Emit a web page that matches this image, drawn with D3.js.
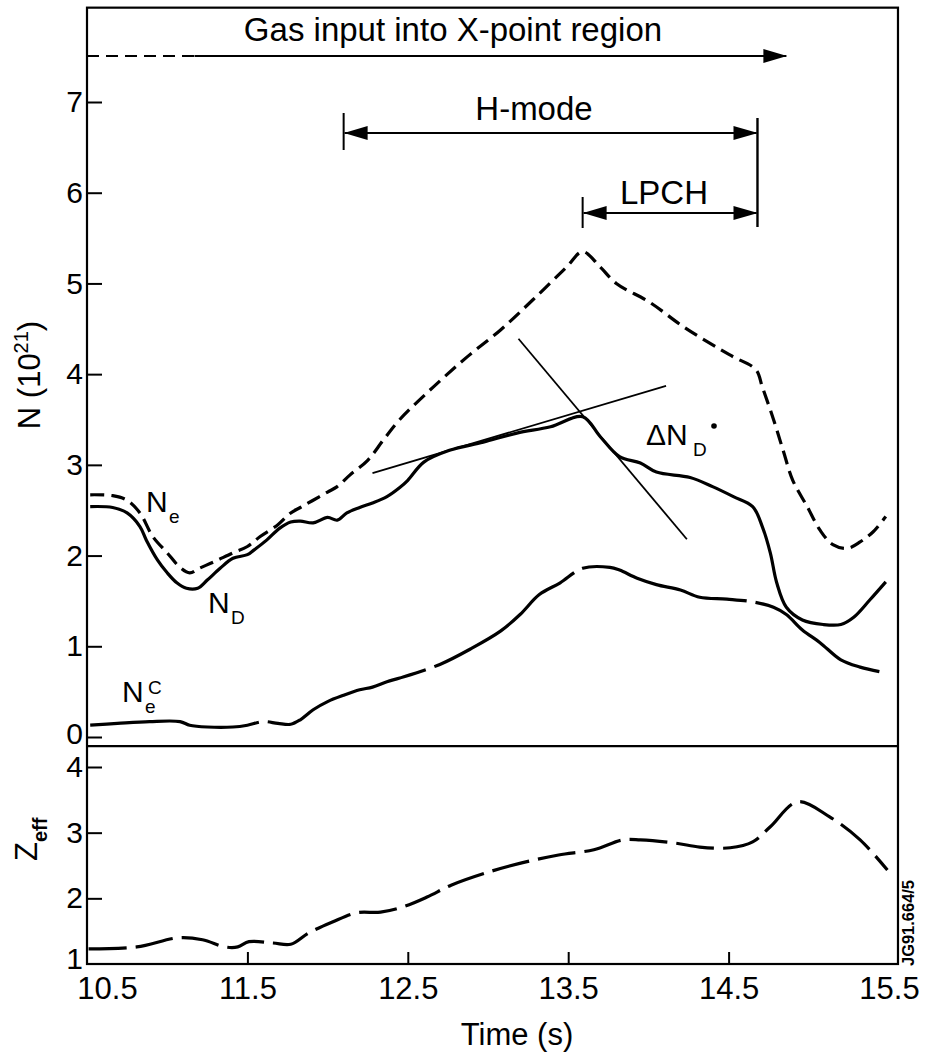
<!DOCTYPE html>
<html>
<head>
<meta charset="utf-8">
<script src="https://cdn.jsdelivr.net/npm/d3@7"></script>
<style>
  body { margin: 0; background: #fff; }
  svg { display: block; font-family: "Liberation Sans", Arial, sans-serif; }
</style>
</head>
<body>
<svg id="chart" width="925" height="1057"></svg>
<script>
// ---- data ----
const xTicks = [10.5, 11.5, 12.5, 13.5, 14.5, 15.5]
const nTicks = [0, 1, 2, 3, 4, 5, 6, 7]
const zTicks = [1, 2, 3, 4]

// N_e (dashed)
const neTime = [10.52,10.66,10.75,10.83,10.91,11.0,11.08,11.14,11.2,11.29,11.41,11.5,11.58,11.69,11.77,11.83,11.91,12.0,12.06,12.14,12.25,12.35,12.45,12.66,12.87,13.08,13.28,13.49,13.59,13.7,13.8,14.01,14.22,14.45,14.53,14.67,14.71,14.78,14.84,14.9,14.99,15.07,15.15,15.24,15.32,15.4,15.48]
const neVal  = [2.67,2.66,2.61,2.47,2.21,2.03,1.87,1.81,1.86,1.93,2.03,2.1,2.21,2.34,2.47,2.53,2.61,2.7,2.76,2.89,3.05,3.28,3.5,3.86,4.19,4.49,4.82,5.18,5.35,5.18,5.0,4.79,4.52,4.27,4.19,4.05,3.86,3.5,3.16,2.83,2.54,2.28,2.12,2.08,2.15,2.26,2.43]

// N_D (solid)
const ndTime = [10.52,10.66,10.75,10.83,10.87,10.94,11.0,11.06,11.12,11.19,11.25,11.33,11.41,11.5,11.54,11.62,11.7,11.77,11.83,11.91,12.0,12.06,12.12,12.2,12.28,12.37,12.45,12.5,12.6,12.76,12.97,13.18,13.39,13.59,13.7,13.82,13.95,14.05,14.26,14.4,14.53,14.65,14.71,14.76,14.8,14.86,14.96,15.09,15.2,15.28,15.38,15.48]
const ndVal  = [2.54,2.53,2.47,2.32,2.17,1.95,1.81,1.7,1.64,1.64,1.73,1.86,1.97,2.01,2.06,2.17,2.3,2.37,2.38,2.36,2.42,2.39,2.47,2.53,2.58,2.65,2.75,2.83,3.03,3.16,3.25,3.35,3.42,3.53,3.31,3.09,3.02,2.92,2.86,2.76,2.65,2.54,2.32,2.03,1.7,1.43,1.29,1.24,1.24,1.32,1.51,1.71]

// N_e^C (solid, broken)
const necTime = [10.52,10.69,10.89,11.08,11.14,11.25,11.41,11.5,11.6,11.69,11.77,11.83,11.91,12.0,12.1,12.2,12.28,12.37,12.45,12.7,12.89,13.08,13.2,13.32,13.45,13.59,13.76,13.82,13.93,14.05,14.2,14.32,14.49,14.65,14.78,14.86,14.96,15.07,15.2,15.32,15.44]
const necVal  = [0.13,0.15,0.17,0.17,0.13,0.11,0.11,0.13,0.17,0.15,0.14,0.19,0.3,0.39,0.46,0.52,0.55,0.61,0.65,0.8,0.97,1.17,1.35,1.57,1.7,1.86,1.87,1.84,1.75,1.68,1.62,1.54,1.52,1.49,1.43,1.35,1.18,1.04,0.85,0.77,0.72]

// Z_eff (long dashes)
const zTime = [10.51,10.81,11.07,11.22,11.36,11.44,11.51,11.66,11.77,11.88,12.03,12.18,12.33,12.47,12.62,12.77,12.99,13.21,13.44,13.66,13.84,13.95,14.17,14.32,14.51,14.65,14.76,14.93,15.13,15.32,15.49]
const zVal  = [1.23,1.26,1.4,1.37,1.26,1.26,1.34,1.32,1.3,1.47,1.64,1.78,1.79,1.87,2.02,2.2,2.39,2.54,2.66,2.74,2.89,2.89,2.84,2.78,2.77,2.86,3.09,3.47,3.24,2.89,2.43]

// the two straight tangent lines for dN_D/dt
const tangentA = [[12.28, 2.91], [14.11, 3.87]]
const tangentB = [[13.19, 4.39], [14.24, 2.18]]

// time intervals marked at top
const gasStart = 10.5, gasDashEnd = 11.17, gasEnd = 14.86
const hmodeStart = 12.1, hmodeEnd = 14.68
const lpchStart = 13.59, lpchEnd = 14.68

// ---- scales ----
const svg = d3.select('#chart')
const x = d3.scaleLinear().domain([10.5, 15.5]).range([87, 889])
const yN = d3.scaleLinear().domain([0, 7]).range([737, 102])
const yZ = d3.scaleLinear().domain([1, 4]).range([964, 767])
const xMax = 15.556, nTop = 8.04, nBottom = -0.1

const fontSize = 30

// arrow heads
const defs = svg.append('defs')
defs.append('marker')
  .attr('id', 'head')
  .attr('markerUnits', 'userSpaceOnUse')
  .attr('viewBox', '0 -8 24 16')
  .attr('refX', 23).attr('refY', 0)
  .attr('markerWidth', 24).attr('markerHeight', 16)
  .attr('orient', 'auto-start-reverse')
  .append('path').attr('d', 'M0,-7L24,0L0,7Z').attr('fill', '#000')

// ---- frame ----
const left = x(10.5), right = x(xMax)
const frame = svg.append('g').attr('stroke', '#000').attr('stroke-width', 2.2).attr('fill', 'none')
frame.append('rect')
  .attr('x', left).attr('y', yN(nTop))
  .attr('width', right - left).attr('height', yZ(1) - yN(nTop))
frame.append('line')
  .attr('x1', left).attr('x2', right)
  .attr('y1', yN(nBottom)).attr('y2', yN(nBottom))

// ---- axes ----
const styleAxis = g => {
  g.select('.domain').remove()
  g.selectAll('.tick line').attr('stroke-width', 2)
  g.selectAll('.tick text').attr('font-size', fontSize).attr('fill', '#000')
  g.attr('font-family', null).attr('font-size', null)
}

svg.append('g')
  .attr('transform', `translate(${left},0)`)
  .call(d3.axisLeft(yN).tickValues(nTicks).tickSize(-15).tickPadding(4).tickFormat(d3.format('d')))
  .call(styleAxis)
  .selectAll('.tick text').filter(d => d === 0).attr('dy', '0.2em')

const zAxisG = svg.append('g')
  .attr('transform', `translate(${left},0)`)
  .call(d3.axisLeft(yZ).tickValues(zTicks).tickSize(-15).tickPadding(4).tickFormat(d3.format('d')))
  .call(styleAxis)
zAxisG.selectAll('.tick line').filter(d => d === 1).remove()
zAxisG.selectAll('.tick text').filter(d => d === 1).attr('dy', '0.15em')

const xAxisG = svg.append('g')
  .attr('transform', `translate(0,${yZ(1)})`)
  .call(d3.axisBottom(x).tickValues(xTicks).tickSize(-12).tickPadding(13).tickFormat(d3.format('.1f')))
  .call(styleAxis)
xAxisG.selectAll('.tick line').filter(d => d === 10.5 || d === 15.5).remove()
xAxisG.selectAll('.tick text').attr('font-size', 31)
xAxisG.selectAll('.tick text').filter(d => d === 10.5).attr('dx', 20)

// axis titles
svg.append('text')
  .attr('x', (x(10.5) + x(15.5)) / 2 + 29).attr('y', 1045)
  .attr('text-anchor', 'middle').attr('font-size', 31)
  .text('Time (s)')

const nLabel = svg.append('text')
  .attr('transform', 'translate(40,375) rotate(-90)')
  .attr('text-anchor', 'middle').attr('font-size', 31)
nLabel.append('tspan').text('N (10')
nLabel.append('tspan').attr('font-size', 20).attr('dy', -12).text('21')
nLabel.append('tspan').attr('dy', 12).text(')')

const zLabel = svg.append('text')
  .attr('transform', 'translate(37,861) rotate(-90)')
  .attr('font-size', 31)
zLabel.append('tspan').text('Z')
zLabel.append('tspan').attr('font-size', 20).attr('dy', 10).attr('font-weight', 'bold').text('eff')

// ---- curves ----
const line = d3.line().curve(d3.curveCatmullRom.alpha(0.5))

const plotN = (times, vals, dash) => svg.append('path')
  .datum(d3.zip(times, vals))
  .attr('d', line.x(d => x(d[0])).y(d => yN(d[1])))
  .attr('fill', 'none').attr('stroke', '#000').attr('stroke-width', 3.2)
  .attr('stroke-dasharray', dash)

plotN(neTime, neVal, '14,7')
plotN(ndTime, ndVal, null)
plotN(necTime, necVal, '170,9')

svg.append('path')
  .datum(d3.zip(zTime, zVal))
  .attr('d', line.x(d => x(d[0])).y(d => yZ(d[1])))
  .attr('fill', 'none').attr('stroke', '#000').attr('stroke-width', 3.2)
  .attr('stroke-dasharray', '38,9')

const straight = d3.line().x(d => x(d[0])).y(d => yN(d[1]))
;[tangentA, tangentB].forEach(t => svg.append('path')
  .attr('d', straight(t))
  .attr('fill', 'none').attr('stroke', '#000').attr('stroke-width', 1.8))

// ---- series labels ----
const label = (tx, ty, main, sub, sup) => {
  svg.append('text').attr('x', tx).attr('y', ty).attr('font-size', 30).text(main)
  if (sub) svg.append('text').attr('x', tx + 23).attr('y', ty + 11).attr('font-size', 19).text(sub)
  if (sup) svg.append('text').attr('x', tx + 26).attr('y', ty - 8).attr('font-size', 19).text(sup)
}
label(146, 512, 'N', 'e')
label(208, 613, 'N', 'D')
label(122, 702, 'N', 'e', 'C')
svg.append('text').attr('x', 646).attr('y', 445).attr('font-size', 30).text('ΔN')
svg.append('text').attr('x', 693).attr('y', 456).attr('font-size', 19).text('D')
svg.append('circle').attr('cx', 714).attr('cy', 426).attr('r', 2.8).attr('fill', '#000')

// ---- interval annotations ----
const ann = svg.append('g').attr('stroke', '#000')

// gas input
ann.append('line')
  .attr('x1', x(gasStart)).attr('x2', x(gasDashEnd)).attr('y1', 56).attr('y2', 56)
  .attr('stroke-width', 2).attr('stroke-dasharray', '12,7')
ann.append('line')
  .attr('x1', x(gasDashEnd)).attr('x2', x(gasEnd)).attr('y1', 56).attr('y2', 56)
  .attr('stroke-width', 2).attr('marker-end', 'url(#head)')
svg.append('text')
  .attr('x', 453).attr('y', 41).attr('text-anchor', 'middle').attr('font-size', 33)
  .text('Gas input into X-point region')

// H-mode
ann.append('line')
  .attr('x1', x(hmodeStart)).attr('x2', x(hmodeStart)).attr('y1', 113).attr('y2', 150)
  .attr('stroke-width', 2)
ann.append('line')
  .attr('x1', x(hmodeEnd)).attr('x2', x(hmodeEnd)).attr('y1', 118).attr('y2', 227)
  .attr('stroke-width', 2.4)
ann.append('line')
  .attr('x1', x(hmodeStart) + 1).attr('x2', x(hmodeEnd) - 1).attr('y1', 133).attr('y2', 133)
  .attr('stroke-width', 2).attr('marker-start', 'url(#head)').attr('marker-end', 'url(#head)')
svg.append('text')
  .attr('x', 534).attr('y', 120).attr('text-anchor', 'middle').attr('font-size', 33)
  .text('H-mode')

// LPCH
ann.append('line')
  .attr('x1', x(lpchStart)).attr('x2', x(lpchStart)).attr('y1', 197).attr('y2', 228)
  .attr('stroke-width', 2)
ann.append('line')
  .attr('x1', x(lpchStart) + 1).attr('x2', x(lpchEnd) - 1).attr('y1', 213).attr('y2', 213)
  .attr('stroke-width', 2).attr('marker-start', 'url(#head)').attr('marker-end', 'url(#head)')
svg.append('text')
  .attr('x', 664).attr('y', 204).attr('text-anchor', 'middle').attr('font-size', 33)
  .text('LPCH')

// figure id
svg.append('text')
  .attr('transform', 'translate(914,966) rotate(-90)')
  .attr('font-size', 16).attr('font-weight', 'bold')
  .attr('textLength', 86).attr('lengthAdjust', 'spacingAndGlyphs')
  .text('JG91.664/5')
</script>
</body>
</html>
